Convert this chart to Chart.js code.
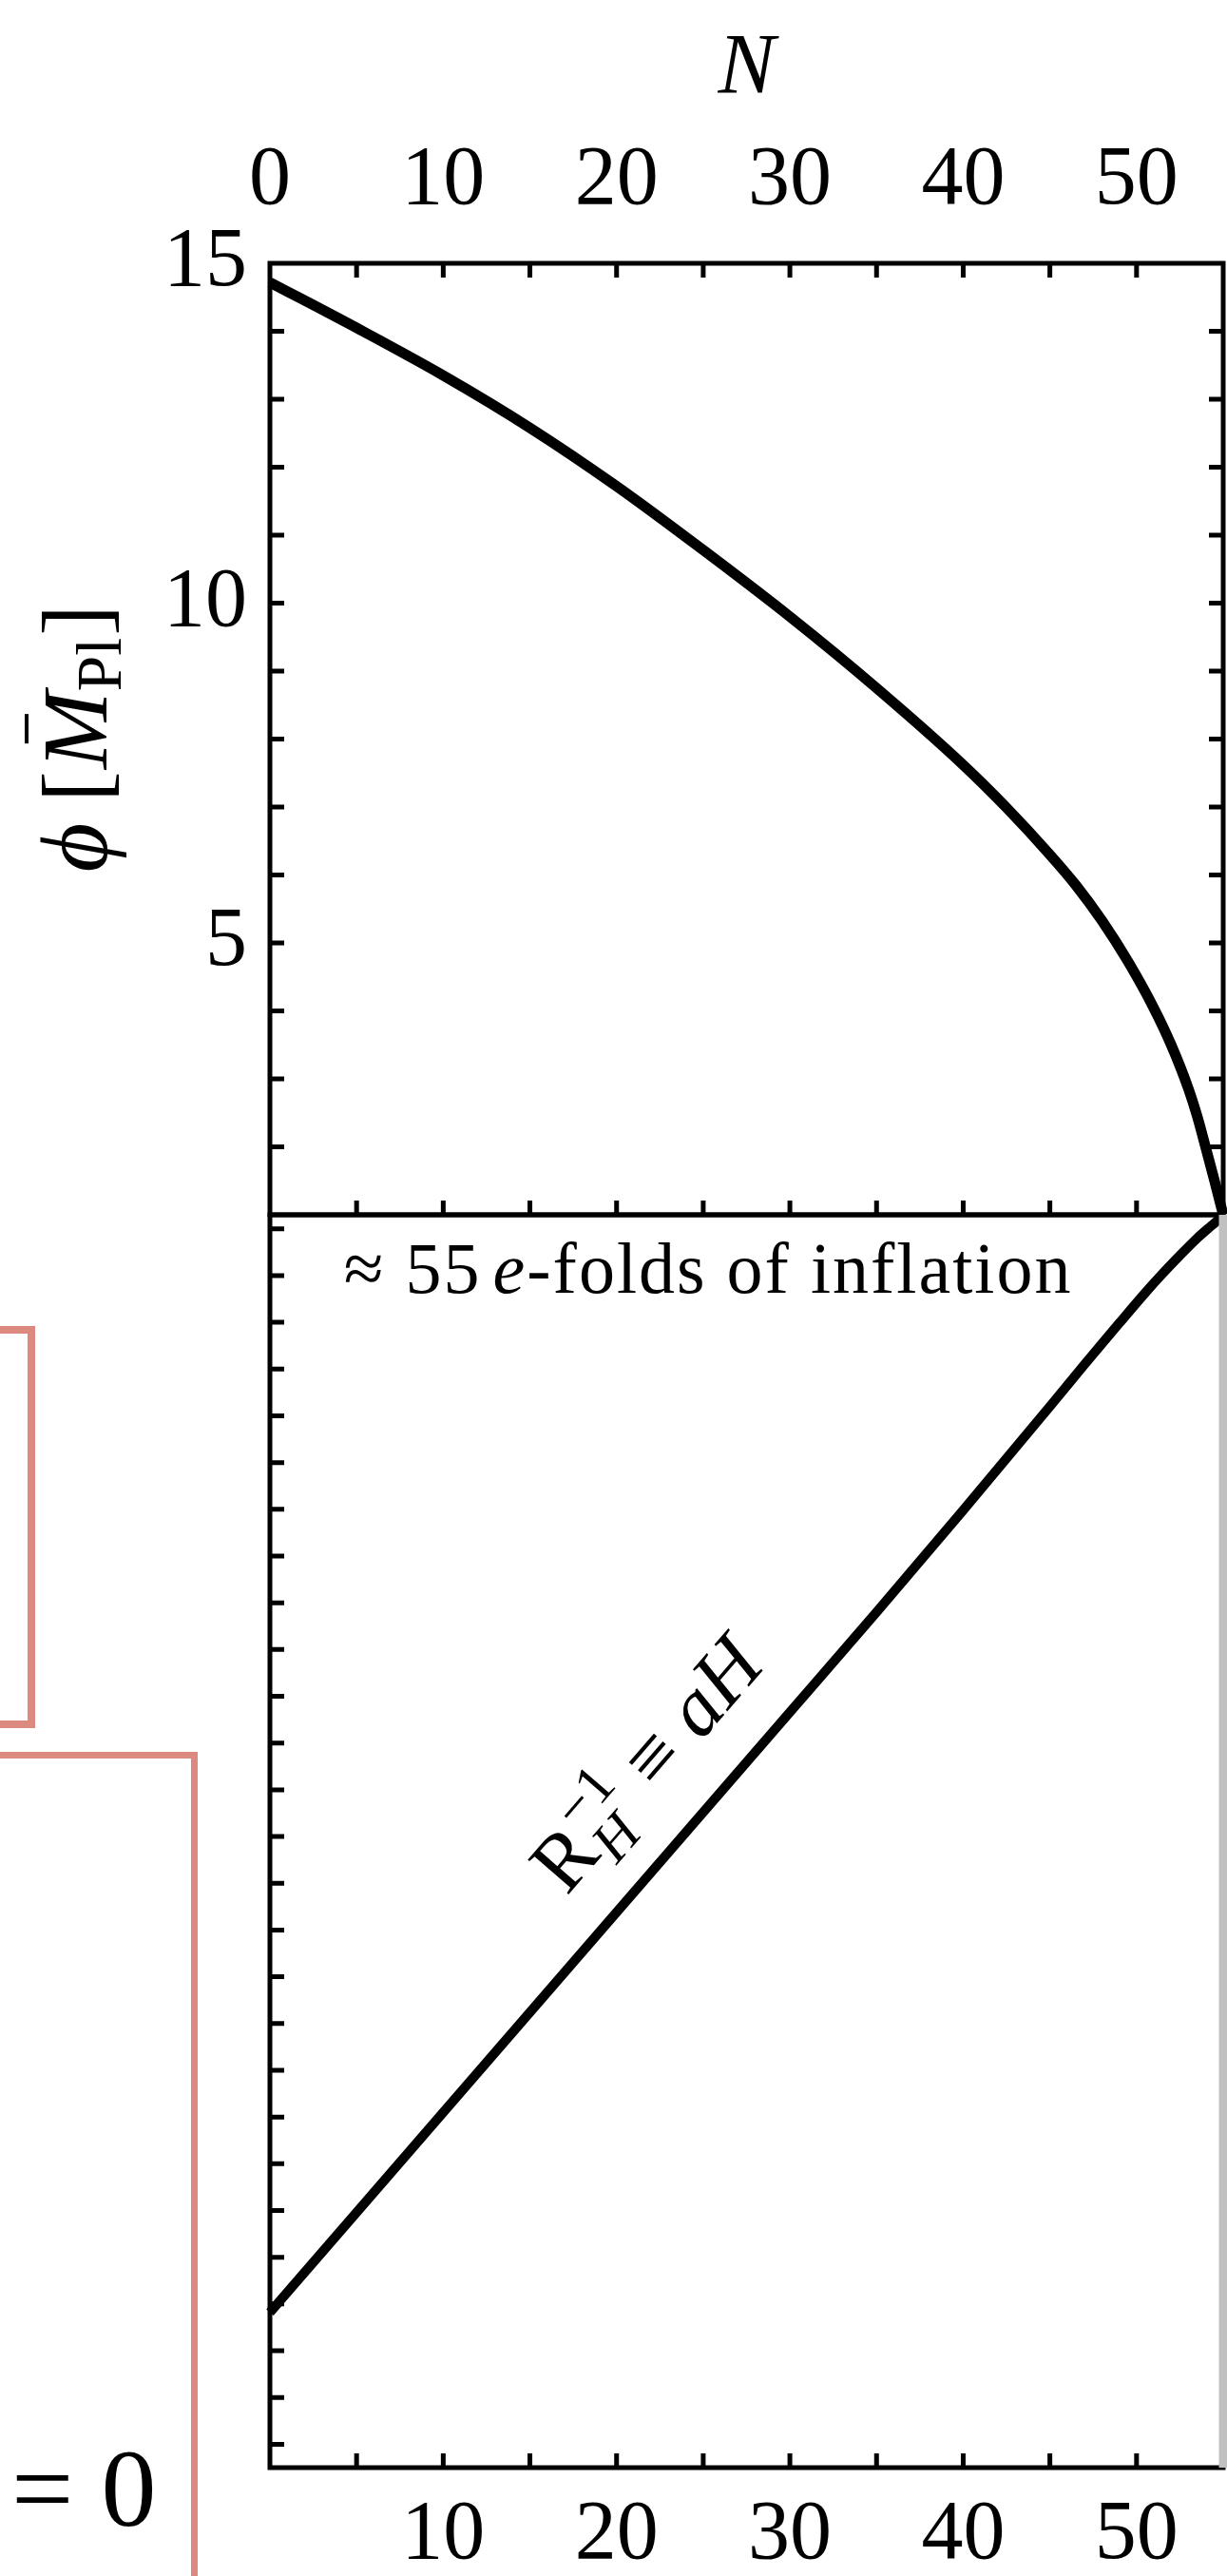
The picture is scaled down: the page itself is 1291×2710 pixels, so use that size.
<!DOCTYPE html>
<html lang="en">
<head>
<meta charset="utf-8">
<title>Inflaton and comoving Hubble scale</title>
<script src="https://cdn.jsdelivr.net/npm/chart.js@4.4.1/dist/chart.umd.min.js"></script>
<style>
  html, body { margin: 0; padding: 0; background: #fff; }
  body { position: relative; width: 1291px; height: 2710px; overflow: hidden; }
  canvas { position: absolute; left: 0; }
  #phiChart { top: 0; }
  #hubbleChart { top: 1190px; }
  /* edges of the neighbouring panel boxes */
  .panel-edge { position: absolute; box-sizing: border-box; border: 8px solid #dc8a80; }
  #eqZero { position: absolute; left: 12px; top: 2560px; font: 116px/1 'Liberation Serif', serif; color: #000; white-space: pre; }
</style>
</head>
<body>
<div class="panel-edge" style="left:-60px; top:1395px; width:97px; height:423px;"></div>
<div class="panel-edge" style="left:-60px; top:1843px; width:268px; height:1000px; border-width:7px;"></div>
<div id="eqZero">= 0</div>
<canvas id="phiChart" width="1291" height="1290"></canvas>
<canvas id="hubbleChart" width="1291" height="1520"></canvas>
<script>
// inflaton value against number of e-folds
const phiN   = [0, 5, 10, 15, 20, 25, 30, 35, 40, 42.5, 45, 46.5, 48, 49.5, 51, 52, 53, 53.5, 54, 54.5, 55];
const phiVal = [14.72, 14.05, 13.35, 12.58, 11.72, 10.78, 9.80, 8.75, 7.62, 6.99, 6.30, 5.85, 5.33, 4.73, 4.04, 3.50, 2.85, 2.45, 1.98, 1.50, 1.00];

// comoving Hubble scale aH (log10, arbitrary offset)
const hubN   = [0, 5, 10, 15, 20, 25, 30, 35, 40, 45, 47, 49, 50.5, 51.5, 52.5, 53.5, 54.3, 55];
const hubLog = [2.82, 4.96, 7.10, 9.24, 11.38, 13.52, 15.66, 17.80, 19.98, 22.20, 23.10, 23.98, 24.63, 25.04, 25.43, 25.80, 26.06, 26.28];

// end of inflation marker
const endN   = [55, 55];
const endLog = [-0.5, 26.3];

const topTickLabels    = [0, 10, 20, 30, 40, 50];
const bottomTickLabels = [10, 20, 30, 40, 50];
const phiTickLabels    = [5, 10, 15];

// text anchors in data coordinates (N, log aH)
const foldsLabelAt  = [4.27, 24.63];
const radiusLabelAt = [19.2, 11.05];

const SERIF = "'Liberation Serif', 'DejaVu Serif', serif";
const INK = '#000';

Chart.defaults.font.family = SERIF;
Chart.defaults.color = INK;

// box around the plot area with inward tick marks on the chosen sides
const framePlugin = {
    id: 'frame',
    beforeDatasetsDraw(chart, args, opts) {
        const { ctx, chartArea: a } = chart;
        const xs = chart.scales.x, ys = chart.scales.y;
        const len = opts.tickLength, sides = opts.sides || [];
        ctx.save();
        ctx.strokeStyle = INK;
        ctx.lineWidth = opts.tickWidth;
        ctx.beginPath();
        xs.ticks.forEach(t => {
            if (t.value <= xs.min || t.value >= xs.max) return;
            const px = xs.getPixelForValue(t.value);
            if (sides.includes('top'))    { ctx.moveTo(px, a.top);    ctx.lineTo(px, a.top + len); }
            if (sides.includes('bottom')) { ctx.moveTo(px, a.bottom); ctx.lineTo(px, a.bottom - len); }
        });
        ys.ticks.forEach(t => {
            if (t.value <= ys.min || t.value >= ys.max) return;
            const py = ys.getPixelForValue(t.value);
            if (sides.includes('left'))  { ctx.moveTo(a.left, py);  ctx.lineTo(a.left + len, py); }
            if (sides.includes('right')) { ctx.moveTo(a.right, py); ctx.lineTo(a.right - len, py); }
        });
        ctx.stroke();
        ctx.lineWidth = opts.lineWidth;
        ctx.strokeRect(a.left, a.top, a.right - a.left, a.bottom - a.top);
        ctx.restore();
    }
};
Chart.register(framePlugin);

// writes text pieces one after another, each with its own font and shift
function drawRuns(ctx, runs, x, y) {
    let cx = x;
    runs.forEach(r => {
        ctx.font = r.font;
        ctx.fillText(r.text, cx, y + (r.dy || 0));
        cx += ctx.measureText(r.text).width + (r.after || 0);
    });
    return cx;
}

// y axis title: phi [M-bar_Pl]
const phiTitle = {
    id: 'phiTitle',
    afterDraw(chart) {
        const { ctx, chartArea: a } = chart;
        const mid = (a.top + a.bottom) / 2;
        ctx.save();
        ctx.translate(a.left - 172, mid + 140);
        ctx.rotate(-Math.PI / 2);
        ctx.fillStyle = INK;
        ctx.textBaseline = 'alphabetic';
        let x = drawRuns(ctx, [
            { text: '\u03D5', font: `italic 100px ${SERIF}`, after: 22 },
            { text: '[', font: `98px ${SERIF}`, after: 2 }
        ], 0, 0);
        ctx.font = `italic 98px ${SERIF}`;
        const mw = ctx.measureText('M').width;
        ctx.fillText('M', x, 0);
        ctx.fillRect(x + 0.33 * mw, -86, 0.38 * mw, 4);
        x += mw;
        drawRuns(ctx, [
            { text: 'Pl', font: `68px ${SERIF}`, dy: 15, after: 2 },
            { text: ']', font: `98px ${SERIF}` }
        ], x, 0);
        ctx.restore();
    }
};

// annotations inside the lower panel
const hubbleLabels = {
    id: 'hubbleLabels',
    afterDatasetsDraw(chart) {
        const { ctx } = chart;
        const xs = chart.scales.x, ys = chart.scales.y;
        ctx.save();
        ctx.fillStyle = INK;
        ctx.textBaseline = 'alphabetic';
        ctx.letterSpacing = '2px';
        drawRuns(ctx, [
            { text: '\u2248 55', font: `76px ${SERIF}`, after: 12 },
            { text: 'e', font: `italic 76px ${SERIF}` },
            { text: '-folds of inflation', font: `76px ${SERIF}` }
        ], xs.getPixelForValue(foldsLabelAt[0]), ys.getPixelForValue(foldsLabelAt[1]));
        ctx.letterSpacing = '0px';

        // R_H^-1 = aH, written along the curve
        const p1x = xs.getPixelForValue(hubN[2]), p1y = ys.getPixelForValue(hubLog[2]);
        const p2x = xs.getPixelForValue(hubN[7]), p2y = ys.getPixelForValue(hubLog[7]);
        const ang = Math.atan2(p2y - p1y, p2x - p1x);
        ctx.translate(xs.getPixelForValue(radiusLabelAt[0]), ys.getPixelForValue(radiusLabelAt[1]));
        ctx.rotate(ang);
        ctx.translate(0, -50);
        ctx.font = `86px ${SERIF}`;
        ctx.fillText('R', 0, 0);
        let x = ctx.measureText('R').width + 2;
        ctx.font = `60px ${SERIF}`;
        ctx.fillText('\u22121', x, -36);
        const supW = ctx.measureText('\u22121').width;
        ctx.font = `italic 60px ${SERIF}`;
        ctx.fillText('H', x, 18);
        const subW = ctx.measureText('H').width;
        x += Math.max(supW, subW) + 22;
        drawRuns(ctx, [
            { text: '\u2261', font: `86px ${SERIF}`, after: 22 },
            { text: 'aH', font: `italic 86px ${SERIF}` }
        ], x, 0);
        ctx.restore();
    }
};

const baseOptions = {
    responsive: false,
    animation: false,
    devicePixelRatio: 1,
    events: []
};

// fixed axis sizes, without the room Chart.js keeps for end labels
const fixXAxis = h => s => { s.height = h; s.paddingLeft = 0; s.paddingRight = 0; };
const fixYAxis = w => s => { s.width = w; s.paddingTop = 0; s.paddingBottom = 0; };

new Chart(document.getElementById('phiChart'), {
    type: 'line',
    data: {
        datasets: [{
            data: phiN.map((n, i) => ({ x: n, y: phiVal[i] })),
            borderColor: INK,
            borderWidth: 11,
            pointRadius: 0,
            cubicInterpolationMode: 'monotone',
            clip: false
        }]
    },
    options: {
        ...baseOptions,
        layout: { padding: { left: 0, right: 4, top: 0, bottom: 12 } },
        plugins: {
            legend: { display: false },
            tooltip: { enabled: false },
            frame: { sides: ['top', 'bottom', 'left', 'right'], tickLength: 15, tickWidth: 5, lineWidth: 5 }
        },
        scales: {
            x: {
                type: 'linear',
                position: 'top',
                min: 0,
                max: 55,
                grid: { display: false, drawTicks: false },
                border: { display: false },
                ticks: {
                    stepSize: 5,
                    autoSkip: false,
                    maxRotation: 0,
                    padding: 33,
                    font: { size: 88 },
                    callback: v => topTickLabels.includes(v) ? String(v) : ''
                },
                title: {
                    display: true,
                    text: 'N',
                    font: { size: 90, style: 'italic' },
                    padding: { top: 20, bottom: 0 }
                },
                afterFit: fixXAxis(277)
            },
            y: {
                type: 'linear',
                min: 1,
                max: 15,
                grid: { display: false, drawTicks: false },
                border: { display: false },
                ticks: {
                    stepSize: 1,
                    autoSkip: false,
                    padding: 24,
                    font: { size: 88 },
                    callback: v => phiTickLabels.includes(v) ? String(v) : ''
                },
                afterFit: fixYAxis(284)
            }
        }
    },
    plugins: [phiTitle]
});

new Chart(document.getElementById('hubbleChart'), {
    type: 'line',
    data: {
        datasets: [
            {
                data: endN.map((n, i) => ({ x: n, y: endLog[i] })),
                borderColor: '#c0c0c0',
                borderWidth: 9,
                pointRadius: 0,
                clip: false,
                order: 0
            },
            {
                data: hubN.map((n, i) => ({ x: n, y: hubLog[i] })),
                borderColor: INK,
                borderWidth: 10,
                pointRadius: 0,
                cubicInterpolationMode: 'monotone',
                clip: false,
                order: 1
            }
        ]
    },
    options: {
        ...baseOptions,
        layout: { padding: { left: 0, right: 4, top: 88, bottom: 0 } },
        plugins: {
            legend: { display: false },
            tooltip: { enabled: false },
            frame: { sides: ['bottom', 'left'], tickLength: 15, tickWidth: 5, lineWidth: 5 }
        },
        scales: {
            x: {
                type: 'linear',
                position: 'bottom',
                min: 0,
                max: 55,
                grid: { display: false, drawTicks: false },
                border: { display: false },
                ticks: {
                    stepSize: 5,
                    autoSkip: false,
                    maxRotation: 0,
                    padding: 19,
                    font: { size: 88 },
                    callback: v => bottomTickLabels.includes(v) ? String(v) : ''
                },
                afterFit: fixXAxis(114)
            },
            y: {
                type: 'linear',
                min: -0.5,
                max: 26.3,
                grid: { display: false, drawTicks: false },
                border: { display: false },
                ticks: { stepSize: 1, display: false },
                afterFit: fixYAxis(284)
            }
        }
    },
    plugins: [hubbleLabels]
});
</script>
</body>
</html>
